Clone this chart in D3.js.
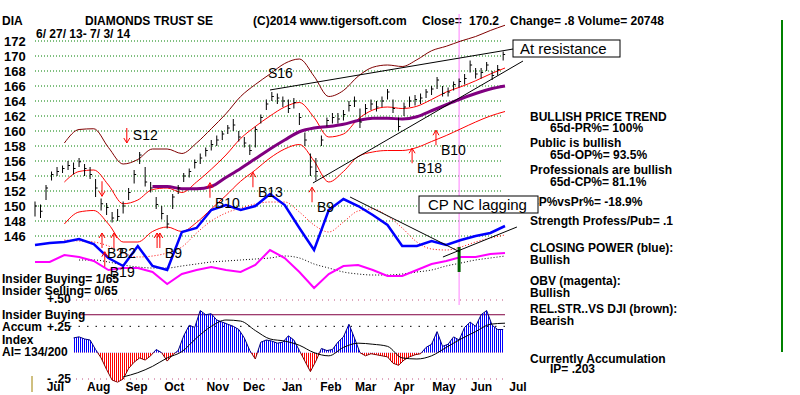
<!DOCTYPE html>
<html>
<head>
<meta charset="utf-8">
<script src="https://cdnjs.cloudflare.com/ajax/libs/d3/7.8.5/d3.min.js"></script>
<style>
body { margin: 0; background: #fff; }
svg text { font-family: "Liberation Sans", Arial, sans-serif; }
.b { font-weight: bold; font-size: 12px; }
.sig { font-size: 14px; }
</style>
</head>
<body>
<div id="chart"></div>
<script>
//width and height
var w = 800;
var h = 395;
var left = 35, right = 505;
var nDays = 256;

// daily bars, every 3rd trading day: [high, low, close]
var priceBars = [
 [150.6,148.6,150.0],[150.2,148.4,149.3],[152.8,150.8,152.4],[154.6,153.4,154.2],[155.2,154.0,154.6],
 [155.4,154.4,155.0],[156.0,154.8,155.4],[155.8,154.2,155.0],[156.4,155.2,155.9],[155.6,154.0,155.0],
 [155.2,153.6,154.2],[153.6,151.2,152.4],[151.0,149.4,150.3],[150.4,148.8,149.8],[149.2,147.8,148.4],
 [149.6,148.0,148.6],[150.6,149.0,150.0],[152.4,150.8,151.8],[154.8,153.0,154.2],[157.2,155.6,156.8],
 [155.2,152.6,153.2],[153.2,151.8,152.4],[151.2,149.6,150.2],[150.0,148.2,149.0],[148.8,147.0,147.6],
 [151.6,149.6,151.2],[152.8,151.6,152.4],[154.4,153.2,154.0],[155.0,153.8,154.6],[156.2,155.0,155.8],
 [157.0,155.6,156.4],[157.8,156.6,157.4],[158.8,157.4,158.2],[159.4,158.0,158.8],[160.0,158.8,159.6],
 [160.8,159.6,160.4],[161.6,160.0,160.8],[160.0,158.6,159.2],[159.2,157.8,158.4],[158.2,156.8,157.4],
 [160.6,157.8,160.2],[162.2,161.0,161.8],[164.2,162.8,163.6],[165.2,164.0,164.6],[165.0,163.6,164.4],
 [164.6,163.2,164.0],[164.2,162.4,163.0],[164.4,163.0,163.8],[162.4,160.8,161.8],[159.8,158.0,158.8],
 [157.0,154.0,155.2],[156.4,153.4,154.6],[159.4,158.0,158.8],[161.8,160.6,161.4],[162.4,161.0,161.8],
 [162.4,161.0,161.6],[162.8,161.4,162.2],[164.0,162.6,163.4],[164.6,163.2,164.0],[163.0,160.4,161.2],
 [163.6,162.2,163.0],[164.2,162.8,163.6],[164.0,162.6,163.2],[164.6,163.2,164.0],[165.6,164.2,165.2],
 [164.2,162.4,163.0],[161.8,160.0,160.6],[163.8,162.0,163.2],[164.6,163.2,164.0],[164.8,163.4,164.2],
 [165.0,163.6,164.4],[165.6,164.4,165.2],[166.0,164.8,165.6],[167.2,165.6,166.8],[166.0,164.6,165.0],
 [165.8,164.6,165.2],[166.6,165.4,166.2],[167.0,165.8,166.6],[167.6,166.2,167.0],[169.4,167.8,168.8],
 [168.4,167.0,167.6],[168.4,167.0,167.8],[169.2,168.0,168.8],[168.0,166.8,167.4],[168.8,167.4,168.2],
 [170.6,169.4,170.2]
];

// lines sampled every 8 trading days
var ma21 = [null,null,153.2,154.6,154.8,152.8,150.3,150.8,152.2,152.4,151.8,153.2,154.9,156.8,159.0,160.6,162.0,163.2,163.8,161.8,159.2,159.6,161.6,162.8,163.2,163.0,163.3,164.2,165.2,165.9,166.7,167.6,168.4];
var upperBand = [null,null,158.4,160.2,160.3,157.8,155.6,156.2,157.6,157.6,157.0,158.4,160.3,162.3,164.6,166.2,167.6,169.0,169.6,167.3,164.6,165.4,167.3,168.5,168.8,168.6,169.5,170.7,171.3,172.0,172.6,173.4,174.1];
var lowerBand = [null,null,147.6,149.2,149.4,147.6,145.2,145.2,146.6,147.2,146.6,147.8,149.6,151.4,153.3,154.8,156.4,157.6,158.2,156.0,153.2,154.6,156.6,157.2,157.4,157.4,157.8,158.6,159.4,160.3,161.2,162.0,162.6];
var ma65 = [null,null,null,null,null,null,null,null,152.6,152.6,152.3,152.3,152.6,153.8,155.0,156.3,157.6,158.8,159.9,160.4,160.6,160.9,161.4,161.7,161.7,161.6,161.9,162.7,163.5,164.3,165.0,165.6,166.0];

// closing power and OBV, relative units 0-100
var closingPower = [45,47,48,51,46,32,24,44,24,20,58,62,80,85,80,84,96,85,62,40,80,91,84,75,65,44,44,49,45,50,54,57,64];
var cpMA = [null,null,50,49,48,44,37,33,34,37,43,57,69,77,82,86,88,88,78,65,58,68,79,81,74,62,48,41,40,43,48,52,55];
var obv = [28,28,35,33,29,20,22,22,18,6,16,20,23,20,18,25,40,32,18,2,16,24,25,20,14,14,20,26,29,33,33,36,37];
var obvMA = [null,null,null,30,30,28,25,23,22,22,24,26,28,29,30,31,32,34,32,26,22,18,16,15,15,16,18,20,24,27,30,32,34];

// accumulation index, every 3rd day from day 21
var accum = [0.14,0.15,0.13,0.12,0.03,-0.05,-0.16,-0.26,-0.28,-0.25,
 -0.15,-0.09,-0.05,-0.07,-0.03,0.03,0.0,-0.08,-0.02,0.02,
 0.16,0.26,0.24,0.40,0.36,0.37,0.31,0.29,0.27,0.25,
 0.22,0.14,0.02,-0.06,0.10,0.12,0.11,0.09,0.10,0.16,
 0.12,0.02,-0.08,-0.18,-0.08,0.04,0.02,0.03,0.10,0.15,
 0.27,0.14,0.0,-0.03,-0.01,-0.02,-0.03,-0.04,-0.10,-0.12,
 -0.07,-0.04,-0.02,-0.01,0.05,0.08,0.20,0.06,0.08,0.15,
 0.12,0.24,0.29,0.25,0.36,0.40,0.26,0.22,0.22];
var accumMA = [null,null,null,null,null,null,-0.23,-0.19,-0.13,-0.05,0.01,0.14,0.25,0.31,0.30,0.21,0.13,0.11,0.07,0.0,-0.03,0.05,0.09,0.08,0.06,-0.05,-0.06,-0.03,0.05,0.13,0.20,0.27,0.28];

var priceTicks = [172,170,168,166,164,162,160,158,156,154,152,150,148,146];
var monthNames = ["Jul","Aug","Sep","Oct","Nov","Dec","Jan","Feb","Mar","Apr","May","Jun","Jul"];
var monthDays = [2,24,45,66,89,109,130,151,170,191,212,233,254];

// signals: name, day, arrow tip price, direction (1 up, -1 down)
var signals = [
 ["S12", 50, 158.4, -1], ["", 36.5, 151.3, -1],
 ["B2", 36.5, 146.4, 1], ["B2", 43, 146.4, 1], ["B19", 38, 143.9, 1],
 ["", 66.5, 146.4, 1], ["B9", 68, 146.4, 1],
 ["B10", 95.3, 153.1, 1], ["B13", 118.7, 154.5, 1], ["B9", 150.9, 152.5, 1],
 ["B18", 205.4, 157.7, 1], ["B10", 218.4, 160.1, 1]
];

// trend lines [day, value]
var resistLine = [[128, 165.47], [260.4, 170.93]];
var supportLine = [[151.4, 153.07], [265.8, 169.33]];
var cpDownLine = [[171.6, 93], [231.5, 38]];
var cpUpLine = [[222.2, 33], [262.5, 63]];

var xScale = d3.scaleLinear().domain([0, nDays]).range([left, right]);
var yScale = d3.scaleLinear().domain([146, 172]).range([236, 41]);
var cpScale = d3.scaleLinear().domain([0, 100]).range([290, 190]);
var aiScale = d3.scaleLinear().domain([-0.25, 0.5]).range([379, 300]);

var svg = d3.select("#chart")
	.append("svg")
	.attr("width", w)
	.attr("height", h);

svg.append("rect").attr("width", w).attr("height", h).attr("fill", "#fff");

// header
svg.append("text").attr("class", "b").attr("x", 2).attr("y", 25).text("DIA");
svg.append("text").attr("class", "b").attr("x", 85).attr("y", 25).text("DIAMONDS TRUST SE");
svg.append("text").attr("class", "b").attr("x", 253).attr("y", 25).text("(C)2014 www.tigersoft.com");
svg.append("text").attr("class", "b").attr("x", 422).attr("y", 25).text("Close=");
svg.append("text").attr("class", "b").attr("x", 469).attr("y", 25).text("170.2");
svg.append("text").attr("class", "b").attr("x", 510).attr("y", 25).text("Change= .8 Volume= 20748");
svg.append("text").attr("class", "b").attr("x", 36).attr("y", 38).text("6/ 27/ 13- 7/ 3/ 14");

// grid
svg.selectAll(".grid")
	.data(priceTicks)
	.enter()
	.append("line")
	.attr("x1", left).attr("x2", right - 2)
	.attr("y1", function (d) { return yScale(d); })
	.attr("y2", function (d) { return yScale(d); })
	.attr("stroke", "#008000")
	.attr("stroke-dasharray", "1,2");

svg.selectAll(".ylab")
	.data(priceTicks)
	.enter()
	.append("text")
	.attr("x", 4)
	.attr("y", function (d) { return yScale(d) + 5; })
	.attr("font-weight", "bold")
	.attr("font-size", "13px")
	.text(function (d) { return d; });

// vertical markers
svg.append("line").attr("x1", 782).attr("x2", 782).attr("y1", 20).attr("y2", 352)
	.attr("stroke", "#008000").attr("stroke-width", 2);
svg.append("line").attr("x1", xScale(231)).attr("x2", xScale(231)).attr("y1", 14).attr("y2", 305)
	.attr("stroke", "#ff80ff").attr("stroke-width", 1);

function lineOf(sc) {
	return d3.line()
		.defined(function (d) { return d != null; })
		.x(function (d, i) { return xScale(i * 8); })
		.y(function (d) { return sc(d); })
		.curve(d3.curveMonotoneX);
}

svg.append("path").attr("d", lineOf(yScale)(upperBand)).attr("fill", "none").attr("stroke", "#800000");
svg.append("path").attr("d", lineOf(yScale)(ma21)).attr("fill", "none").attr("stroke", "#ff0000");
svg.append("path").attr("d", lineOf(yScale)(lowerBand)).attr("fill", "none").attr("stroke", "#ff0000");
svg.append("path").attr("d", lineOf(yScale)(ma65)).attr("fill", "none").attr("stroke", "#800080").attr("stroke-width", 3);

// price bars
var bars = svg.append("g").attr("stroke", "#000");
bars.selectAll("line.hl")
	.data(priceBars)
	.enter()
	.append("line")
	.attr("x1", function (d, i) { return xScale(i * 3); })
	.attr("x2", function (d, i) { return xScale(i * 3); })
	.attr("y1", function (d) { return yScale(d[0]); })
	.attr("y2", function (d) { return yScale(d[1]); });
bars.selectAll("line.cl")
	.data(priceBars)
	.enter()
	.append("line")
	.attr("x1", function (d, i) { return xScale(i * 3); })
	.attr("x2", function (d, i) { return xScale(i * 3) + 2; })
	.attr("y1", function (d) { return yScale(d[2]); })
	.attr("y2", function (d) { return yScale(d[2]); });

// CP / OBV
var linearLine = function (sc) {
	return d3.line()
		.defined(function (d) { return d != null; })
		.x(function (d, i) { return xScale(i * 8); })
		.y(function (d) { return sc(d); });
};
svg.append("path").attr("d", lineOf(cpScale)(cpMA)).attr("fill", "none").attr("stroke", "#ff0000").attr("stroke-dasharray", "1,2");
svg.append("path").attr("d", lineOf(cpScale)(obvMA)).attr("fill", "none").attr("stroke", "#000").attr("stroke-dasharray", "1,2");
svg.append("path").attr("d", linearLine(cpScale)(obv)).attr("fill", "none").attr("stroke", "#ff00ff").attr("stroke-width", 2);
svg.append("path").attr("d", linearLine(cpScale)(closingPower)).attr("fill", "none").attr("stroke", "#0000ff").attr("stroke-width", 2.5);

svg.append("line").attr("x1", xScale(231)).attr("x2", xScale(231)).attr("y1", 247).attr("y2", 272)
	.attr("stroke", "#006000").attr("stroke-width", 3);

// trend lines
function trend(pts, sc) {
	svg.append("line")
		.attr("x1", xScale(pts[0][0])).attr("y1", sc(pts[0][1]))
		.attr("x2", xScale(pts[1][0])).attr("y2", sc(pts[1][1]))
		.attr("stroke", "#000");
}
trend(resistLine, yScale);
trend(supportLine, yScale);
trend(cpDownLine, cpScale);
trend(cpUpLine, cpScale);

// signals
signals.forEach(function (s) {
	var x = xScale(s[1]), t = yScale(s[2]), len = 15;
	var p = s[3] > 0
		? "M" + x + "," + (t + len) + "V" + t + "M" + (x - 3) + "," + (t + 5) + "L" + x + "," + t + "L" + (x + 3) + "," + (t + 5)
		: "M" + x + "," + (t - len) + "V" + t + "M" + (x - 3) + "," + (t - 5) + "L" + x + "," + t + "L" + (x + 3) + "," + (t - 5);
	svg.append("path").attr("d", p).attr("fill", "none").attr("stroke", "#ff0000");
	if (s[0]) {
		svg.append("text").attr("class", "sig")
			.attr("x", s[3] > 0 ? x + 5 : x + 6)
			.attr("y", s[3] > 0 ? t + len + 10 : t - 3)
			.text(s[0]);
	}
});
svg.append("text").attr("class", "sig").attr("x", 268).attr("y", 78).text("S16");

// boxes
svg.append("rect").attr("x", 513).attr("y", 40).attr("width", 107).attr("height", 17)
	.attr("fill", "#fff").attr("stroke", "#000");
svg.append("text").attr("x", 520).attr("y", 54).attr("font-size", "15px").text("At resistance");

// right panel
var rp = svg.append("g").attr("class", "b");
rp.append("text").attr("x", 530).attr("y", 121).text("BULLISH PRICE TREND");
rp.append("text").attr("x", 550).attr("y", 132).text("65d-PR%= 100%");
rp.append("text").attr("x", 530).attr("y", 147).text("Public is bullish");
rp.append("text").attr("x", 550).attr("y", 159).text("65d-OP%= 93.5%");
rp.append("text").attr("x", 530).attr("y", 174).text("Professionals are bullish");
rp.append("text").attr("x", 550).attr("y", 186).text("65d-CP%= 81.1%");
rp.append("text").attr("x", 530).attr("y", 206).text("CP%vsPr%= -18.9%");
rp.append("text").attr("x", 530).attr("y", 225).text("Strength Profess/Pub= .1");
rp.append("text").attr("x", 530).attr("y", 252).text("CLOSING POWER (blue):");
rp.append("text").attr("x", 530).attr("y", 264).text("Bullish");
rp.append("text").attr("x", 530).attr("y", 285).text("OBV (magenta):");
rp.append("text").attr("x", 530).attr("y", 297).text("Bullish");
rp.append("text").attr("x", 530).attr("y", 313).text("REL.STR..VS DJI (brown):");
rp.append("text").attr("x", 530).attr("y", 325).text("Bearish");
rp.append("text").attr("x", 530).attr("y", 363).text("Currently Accumulation");
rp.append("text").attr("x", 550).attr("y", 373).text("IP=  .203");

svg.append("rect").attr("x", 419).attr("y", 196).attr("width", 119).attr("height", 17)
	.attr("fill", "#fff").attr("stroke", "#000");
svg.append("text").attr("x", 428).attr("y", 210).attr("font-size", "15px").text("CP NC lagging");

// accumulation panel
var defs = svg.append("defs");
[["stripeBlue", "#0000ff"], ["stripeRed", "#ff0000"]].forEach(function (p) {
	defs.append("pattern").attr("id", p[0]).attr("patternUnits", "userSpaceOnUse")
		.attr("width", 2).attr("height", 4)
		.append("rect").attr("width", 1).attr("height", 4).attr("fill", p[1]);
});
defs.append("clipPath").attr("id", "clipPos").append("rect")
	.attr("x", 0).attr("y", 0).attr("width", w).attr("height", aiScale(0));
defs.append("clipPath").attr("id", "clipNeg").append("rect")
	.attr("x", 0).attr("y", aiScale(0)).attr("width", w).attr("height", 60);

svg.append("line").attr("x1", 70).attr("x2", right).attr("y1", aiScale(0.5)).attr("y2", aiScale(0.5))
	.attr("stroke", "#c05080").attr("stroke-dasharray", "1,5");
svg.append("line").attr("x1", 70).attr("x2", right).attr("y1", aiScale(0.25)).attr("y2", aiScale(0.25))
	.attr("stroke", "#000").attr("stroke-dasharray", "1.5,7");
svg.append("line").attr("x1", 70).attr("x2", right).attr("y1", aiScale(-0.25)).attr("y2", aiScale(-0.25))
	.attr("stroke", "#c05080").attr("stroke-dasharray", "1,5");
svg.append("line").attr("x1", 80).attr("x2", right).attr("y1", aiScale(0.36)).attr("y2", aiScale(0.36))
	.attr("stroke", "#800040");

var aiArea = d3.area()
	.x(function (d, i) { return xScale(21 + i * 3); })
	.y0(aiScale(0))
	.y1(function (d) { return aiScale(d); });
var aiLine = d3.line()
	.x(function (d, i) { return xScale(21 + i * 3); })
	.y(function (d) { return aiScale(d); });

svg.append("path").attr("d", aiArea(accum)).attr("fill", "url(#stripeBlue)").attr("clip-path", "url(#clipPos)");
svg.append("path").attr("d", aiArea(accum)).attr("fill", "url(#stripeRed)").attr("clip-path", "url(#clipNeg)");
svg.append("path").attr("d", aiLine(accum)).attr("fill", "none").attr("stroke", "#000080").attr("clip-path", "url(#clipPos)");
svg.append("path").attr("d", aiLine(accum)).attr("fill", "none").attr("stroke", "#800000").attr("clip-path", "url(#clipNeg)");
svg.append("path").attr("d", lineOf(aiScale)(accumMA)).attr("fill", "none").attr("stroke", "#000");

var lp = svg.append("g").attr("class", "b");
lp.append("text").attr("x", 2).attr("y", 283).text("Insider Buying= 1/65");
lp.append("text").attr("x", 47).attr("y", 303).text("+.50");
lp.append("text").attr("x", 2).attr("y", 295).text("Insider Selling= 0/65");
lp.append("text").attr("x", 2).attr("y", 319).text("Insider Buying");
lp.append("text").attr("x", 2).attr("y", 331).text("Accum");
lp.append("text").attr("x", 47).attr("y", 331).text("+.25");
lp.append("text").attr("x", 2).attr("y", 344).text("Index");
lp.append("text").attr("x", 2).attr("y", 356).text("AI= 134/200");
lp.append("text").attr("x", 47).attr("y", 383).text("- .25");

svg.append("line").attr("x1", 32).attr("x2", 32).attr("y1", 376).attr("y2", 392).attr("stroke", "#a08000");

// month labels
svg.selectAll(".mon")
	.data(monthDays)
	.enter()
	.append("text")
	.attr("class", "b")
	.attr("x", function (d) { return xScale(d) + 8; })
	.attr("y", 391)
	.text(function (d, i) { return monthNames[i]; });
</script>
</body>
</html>
